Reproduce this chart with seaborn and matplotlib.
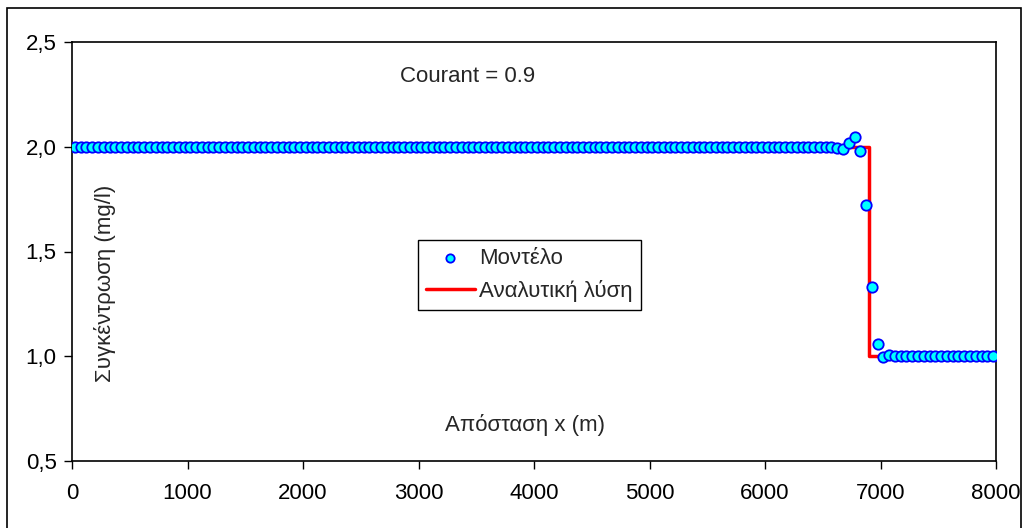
import numpy as np
import pandas as pd
import matplotlib
matplotlib.use("Agg")
import matplotlib.pyplot as plt
import seaborn as sns
from matplotlib.patches import Rectangle
from matplotlib.ticker import FuncFormatter

# ---- data ----
x_model = np.arange(25, 8000, 50)  # cell centres, dx = 50 m
c_model = (
    [2.0] * 132
    + [1.995, 1.99, 2.016, 2.045, 1.98, 1.72, 1.33, 1.06, 0.995, 1.005]
    + [1.0] * 18
)
x_exact = [0, 6900, 6900, 8000]
c_exact = [2.0, 2.0, 1.0, 1.0]

label_model = "Μοντέλο"
label_exact = "Αναλυτική λύση"
xlabel = "Απόσταση x (m)"
ylabel = "Συγκέντρωση (mg/l)"
note = "Courant = 0.9"

df_model = pd.DataFrame({"x": x_model, "c": c_model})
df_exact = pd.DataFrame({"x": x_exact, "c": c_exact})

sns.set_style("white")
plt.rcParams["font.family"] = ["Liberation Sans", "DejaVu Sans"]

W, H = 1026, 528
FS = 16
fig = plt.figure(figsize=(W / 100, H / 100), dpi=100)
ax = fig.add_axes([72 / W, 1 - 461 / H, (996 - 72) / W, (461 - 42) / H])

sns.lineplot(data=df_exact, x="x", y="c", ax=ax, color="#FF0000", lw=2.5,
             label=label_exact, sort=False, estimator=None, zorder=2)
sns.scatterplot(data=df_model, x="x", y="c", ax=ax, color="#00FFFF",
                edgecolor="#0000FF", linewidth=1.3, s=56, label=label_model,
                zorder=3)

ax.set_xlim(0, 8000)
ax.set_ylim(0.5, 2.5)
ax.set_xticks(np.arange(0, 8001, 1000))
ax.set_yticks([0.5, 1.0, 1.5, 2.0, 2.5])
ax.yaxis.set_major_formatter(FuncFormatter(lambda v, p: f"{v:.1f}".replace(".", ",")))
ax.set_xlabel("")
ax.set_ylabel("")
for s in ax.spines.values():
    s.set_color("black")
    s.set_linewidth(1.2)
ax.tick_params(axis="both", direction="out", length=6, width=1, color="black",
               labelsize=FS, labelcolor="black", left=True, bottom=True)
ax.tick_params(axis="x", pad=10)
ax.tick_params(axis="y", pad=5)

ax.text(0.036, 0.425, ylabel, transform=ax.transAxes, rotation=90,
        ha="center", va="center", fontsize=FS)
ax.text(0.49, 0.085, xlabel, transform=ax.transAxes, ha="center",
        va="center", fontsize=FS)
ax.text(0.428, 0.917, note, transform=ax.transAxes, ha="center",
        va="center", fontsize=FS)

handles, labels = ax.get_legend_handles_labels()
order = [labels.index(label_model), labels.index(label_exact)]
leg = ax.legend([handles[i] for i in order], [labels[i] for i in order],
                loc="upper left", bbox_to_anchor=((418 - 72) / 924, 1 - (240 - 42) / 419),
                fontsize=FS, frameon=True, fancybox=False, framealpha=1,
                edgecolor="black", handlelength=2.2, handletextpad=0.2,
                borderpad=0.35, labelspacing=0.5, borderaxespad=0, markerscale=0.8)
leg.get_frame().set_linewidth(1.0)

fig.patches.append(Rectangle((7 / W, -0.05), (1021 - 7) / W, 1 - 8 / H + 0.05,
                             transform=fig.transFigure, fill=False,
                             edgecolor="black", lw=1.2))

fig.savefig("out.png", dpi=100)
